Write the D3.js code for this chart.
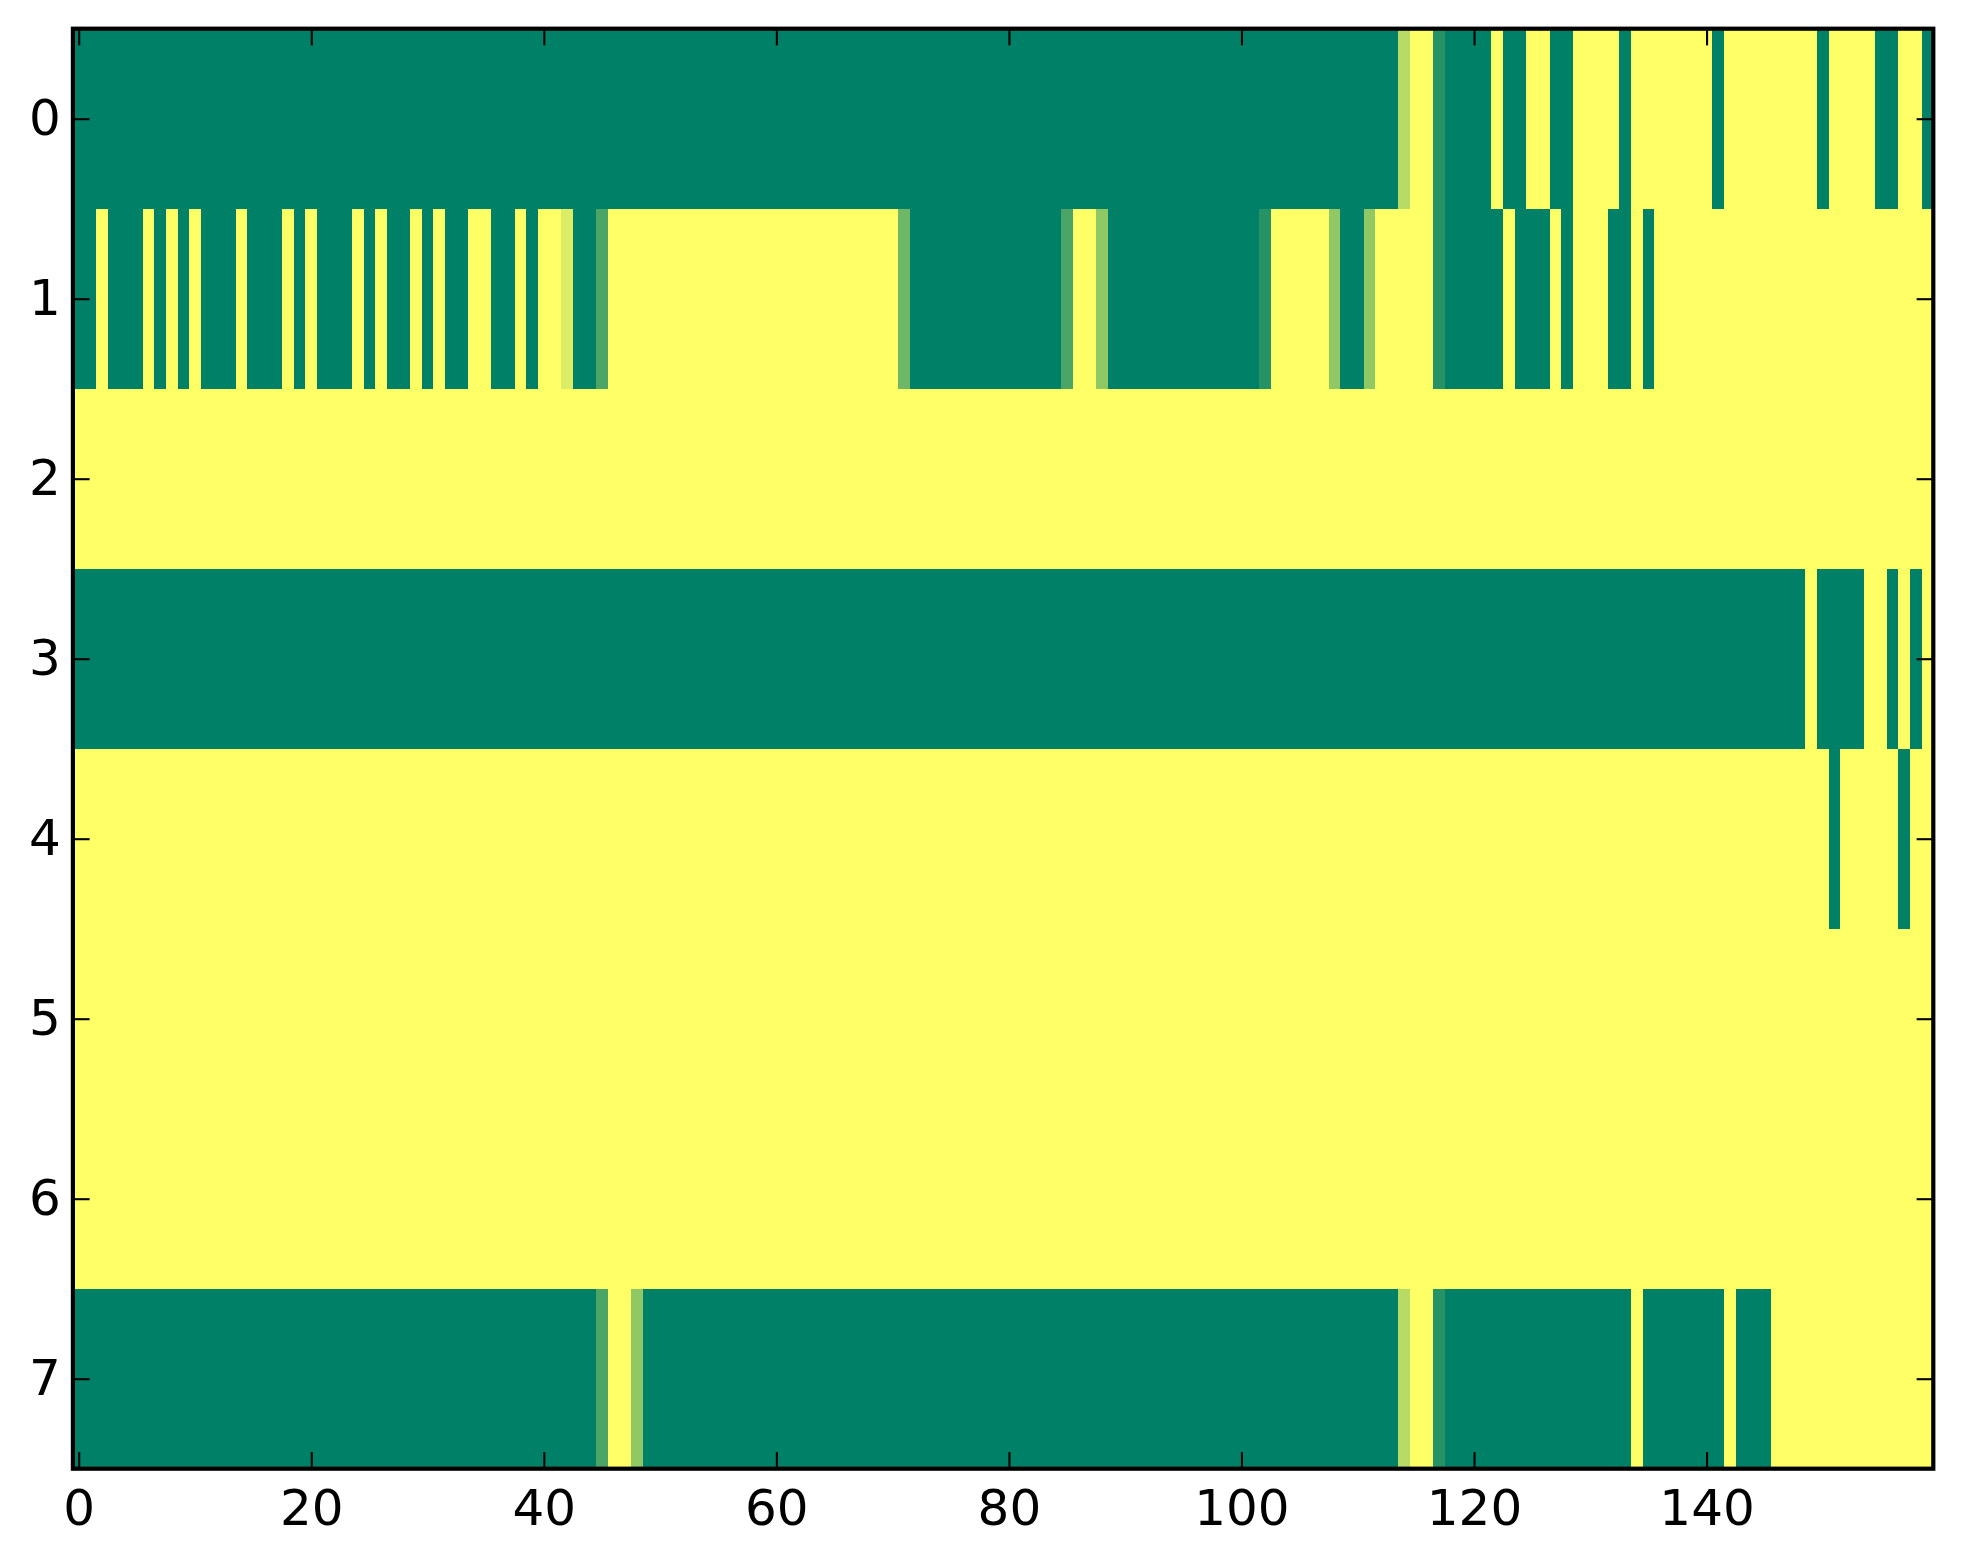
<!DOCTYPE html>
<html>
<head>
<meta charset="utf-8">
<script src="https://cdn.jsdelivr.net/npm/d3@7"></script>
<style>
  body { margin: 0; background: #fff; }
  text { font-family: "DejaVu Sans", sans-serif; }
</style>
</head>
<body>
<div id="chart"></div>
<script>
// each row as runs of [value, number of columns], value 0 = green, 1 = yellow
const row0 = [[0,114],[0.72,1],[1,2],[0.15,1],[0,4],[1,1],[0,2],[1,2],[0,2],[1,4],[0,1],[1,7],[0,1],[1,8],[0,1],[1,4],[0,2],[1,2],[0,1]];
const row1 = [[0,2],[1,1],[0,3],[1,1],[0,1],[1,1],[0,1],[1,1],[0,3],[1,1],[0,3],[1,1],[0,1],[1,1],[0,3],[1,1],[0,1],[1,1],[0,2],[1,1],[0,1],[1,1],[0,2],[1,2],[0,2],[1,1],[0,1],[1,2],[0.86,1],[0,2],[0.29,1],[1,25],[0.43,1],[0,13],[0.29,1],[1,2],[0.57,1],[0,13],[0.15,1],[1,5],[0.57,1],[0,2],[0.57,1],[1,5],[0.15,1],[0,5],[1,1],[0,3],[1,1],[0,1],[1,3],[0,2],[1,1],[0,1],[1,24]];
const row2 = [[1,160]];
const row3 = [[0,149],[1,1],[0,4],[1,2],[0,1],[1,1],[0,1],[1,1]];
const row4 = [[1,151],[0,1],[1,5],[0,1],[1,2]];
const row5 = [[1,160]];
const row6 = [[1,160]];
const row7 = [[0,45],[0.29,1],[1,2],[0.57,1],[0,65],[0.72,1],[1,2],[0.15,1],[0,16],[1,1],[0,7],[1,1],[0,3],[1,14]];
const rows = [row0, row1, row2, row3, row4, row5, row6, row7];

const xTicks = [0, 20, 40, 60, 80, 100, 120, 140];
const yTicks = [0, 1, 2, 3, 4, 5, 6, 7];
const nCols = 160;

const W = 1963, H = 1564;
const plotLeft = 72.9, plotRight = 1933.3, plotTop = 28.7, plotBottom = 1468.7;
const tickLen = 16.7;

// expand runs into cells
const cells = [];
rows.forEach((runs, r) => {
  let c = 0;
  runs.forEach(([v, n]) => {
    for (let k = 0; k < n; k++) cells.push({ row: r, col: c++, v: v });
  });
});

const x = d3.scaleLinear().domain([-0.5, nCols - 0.5]).range([plotLeft, plotRight]);
const y = d3.scaleLinear().domain([-0.5, rows.length - 0.5]).range([plotTop, plotBottom]);
const color = d3.scaleLinear().domain([0, 1]).range(["#008066", "#ffff66"]);

const svg = d3.select("#chart").append("svg")
  .attr("width", W)
  .attr("height", H);

svg.append("rect").attr("width", W).attr("height", H).attr("fill", "#fff");

svg.append("g")
  .selectAll("rect")
  .data(cells)
  .enter().append("rect")
  .attr("x", d => x(d.col - 0.5))
  .attr("y", d => y(d.row - 0.5))
  .attr("width", d => x(d.col + 0.5) - x(d.col - 0.5) + 0.5)
  .attr("height", d => y(d.row + 0.5) - y(d.row - 0.5) + 0.5)
  .attr("fill", d => color(d.v))
  .attr("shape-rendering", "crispEdges");

// axes, ticks pointing inward
const gx = svg.append("g")
  .attr("transform", `translate(0,${plotBottom})`)
  .call(d3.axisBottom(x).tickValues(xTicks).tickSize(-tickLen).tickPadding(21));
const gxTop = svg.append("g")
  .attr("transform", `translate(0,${plotTop})`)
  .call(d3.axisTop(x).tickValues(xTicks).tickSize(-tickLen).tickFormat(""));
const gy = svg.append("g")
  .attr("transform", `translate(${plotLeft},0)`)
  .call(d3.axisLeft(y).tickValues(yTicks).tickSize(-tickLen).tickPadding(12));
const gyRight = svg.append("g")
  .attr("transform", `translate(${plotRight},0)`)
  .call(d3.axisRight(y).tickValues(yTicks).tickSize(-tickLen).tickFormat(""));

[gx, gxTop, gy, gyRight].forEach(g => {
  g.select(".domain").remove();
  g.selectAll(".tick line").attr("stroke", "#000").attr("stroke-width", 2.1);
  g.selectAll(".tick text")
    .attr("fill", "#000")
    .style("font-size", "50px")
    .style("font-family", "'DejaVu Sans', sans-serif");
});

// frame
svg.append("rect")
  .attr("x", plotLeft)
  .attr("y", plotTop)
  .attr("width", plotRight - plotLeft)
  .attr("height", plotBottom - plotTop)
  .attr("fill", "none")
  .attr("stroke", "#000")
  .attr("stroke-width", 4.2);
</script>
</body>
</html>
